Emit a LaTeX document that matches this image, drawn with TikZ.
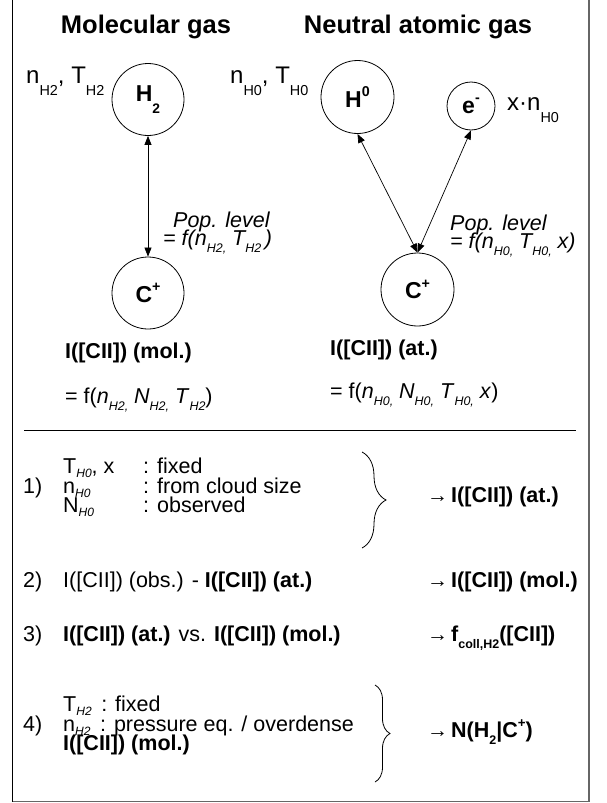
\documentclass[tikz,border=0pt]{standalone}
\usepackage{fontspec}
\setmainfont{Liberation Sans}
\usetikzlibrary{arrows.meta,decorations.pathreplacing}
\newcommand\sbs[1]{\raisebox{-0.2em}{\scalebox{0.56}{#1}}}
\newcommand\sbm[1]{\raisebox{-0.34em}{\scalebox{0.58}{#1}}}
\newcommand\sbl[1]{\raisebox{-0.5em}{\scalebox{0.6}{#1}}}
\newcommand\sps[1]{\raisebox{0.45em}{\scalebox{0.62}{#1}}}
\newcommand\smarr{\makebox[24pt][l]{\fontsize{21}{21}\selectfont\mdseries →}}
\begin{document}
\begin{tikzpicture}[x=1pt,y=-1pt,
  txt/.style={font=\fontsize{21.5}{24}\selectfont, inner sep=0pt, anchor=base west},
  big/.style={font=\fontsize{24}{26}\selectfont, inner sep=0pt, anchor=base west},
  ttl/.style={font=\fontsize{25.5}{28}\selectfont\bfseries, inner sep=0pt, anchor=base},
  circ/.style={draw, circle, line width=0.8pt, minimum size=#1, inner sep=0pt, font=\fontsize{23}{24}\selectfont\bfseries},
  dbl/.style={{Triangle[length=9pt,width=7pt]}-{Triangle[length=9pt,width=7pt]}, line width=0.7pt},
  brc/.style={decorate, decoration={brace, amplitude=#1}, line width=0.8pt},
  frameL/.style={line width=1pt, black},
  frameR/.style={line width=1.6pt, black!60}]
\useasboundingbox (0,0) rectangle (606,803);
% frame
\coordinate (fTL) at (12.5,0);
\coordinate (fBL) at (12.5,801.5);
\coordinate (fBR) at (589,801.5);
\coordinate (fTR) at (589,0);
\draw[frameL] (fTL) -- (fBL);
\draw[frameR] (fBL) -- (fBR) -- (fTR);
% titles
\node[ttl] (title1) at (146,33) {Molecular gas};
\node[ttl] (title2) at (418,33) {Neutral atomic gas};
% circles
\node[circ=72pt] (H2) at (148,99.5) {H\sbl{2}};
\node[circ=73pt] (H0) at (357.5,97) {H\sps{0}};
\node[circ=48pt] (e) at (471,106) {e\sps{-}};
\node[circ=72pt] (CL) at (148,293) {C\sps{+}};
\node[circ=73pt] (CR) at (417.5,289.5) {C\sps{+}};
% labels near circles
\node[big] (nTH2) at (26,83) {n\sbl{H2}, T\sbl{H2}};
\node[big] (nTH0) at (230,83) {n\sbl{H0}, T\sbl{H0}};
\node[big] (xnH0) at (507,110) {x·n\sbl{H0}};
% connectors
\draw[dbl] (CL.north) -- (H2.south);
\draw[dbl] (CR.north) -- (H0.south);
\draw[dbl] (CR.north) -- (e.south);
% population level labels
\node[txt, font=\fontsize{21.5}{24}\selectfont\itshape] (popL1) at (173,227) {Pop. level};
\node[txt, font=\fontsize{21.5}{24}\selectfont\itshape] (popL2) at (163,245) {= f(n\sbm{H2,} T\sbm{H2}\,)};
\node[txt, font=\fontsize{21.5}{24}\selectfont\itshape] (popR1) at (450,230) {Pop. level};
\node[txt, font=\fontsize{21.5}{24}\selectfont\itshape] (popR2) at (450,248) {= f(n\sbm{H0,} T\sbm{H0,} x)};
% intensities
\node[txt, font=\fontsize{21.5}{24}\selectfont\bfseries] (ImolL) at (65,358) {I([CII]) (mol.)};
\node[txt] (feqL) at (65,403) {= f(\textit{n}\sbm{\itshape H2,} \textit{N}\sbm{\itshape H2,} \textit{T}\sbm{\itshape H2})};
\node[txt, font=\fontsize{21.5}{24}\selectfont\bfseries] (IatR) at (330,355) {I([CII]) (at.)};
\node[txt] (feqR) at (330,398) {= f(\textit{n}\sbm{\itshape H0,} \textit{N}\sbm{\itshape H0,} \textit{T}\sbm{\itshape H0,} \textit{x})};
% separator
\coordinate (hl1) at (24,430);
\coordinate (hl2) at (576,430);
\draw[line width=0.8pt] (hl1) -- (hl2);
% step 1
\node[txt] (s1a) at (63,473) {T\sbs{\itshape H0}, x};
\node[txt] (s1b) at (143,473) {: fixed};
\node[txt] (n1) at (23,493) {1)};
\node[txt] (s1c) at (63,493) {n\sbs{\itshape H0}};
\node[txt] (s1d) at (143,493) {: from cloud size};
\node[txt] (s1e) at (63,512) {N\sbs{\itshape H0}};
\node[txt] (s1f) at (143,512) {: observed};
\coordinate (b1t) at (362,452);
\coordinate (b1b) at (362,548);
\draw[brc=24pt] (b1t) -- (b1b);
\node[txt] (r1) at (427,502) {\smarr\textbf{I([CII]) (at.)}};
% step 2
\node[txt] (n2) at (23,587) {2)};
\node[txt] (s2) at (63,587) {I([CII]) (obs.) - \textbf{I([CII]) (at.)}};
\node[txt] (r2) at (427,587) {\smarr\textbf{I([CII]) (mol.)}};
% step 3
\node[txt] (n3) at (23,641) {3)};
\node[txt] (s3) at (63,641) {\textbf{I([CII]) (at.)} vs. \textbf{I([CII]) (mol.)}};
\node[txt] (r3) at (427,641) {\smarr\textbf{f\sbm{coll,H2}([CII])}};
% step 4
\node[txt] (s4a) at (63,711) {T\sbs{\itshape H2} \,: fixed};
\node[txt] (n4) at (23,731) {4)};
\node[txt] (s4b) at (63,731) {n\sbs{\itshape H2} \,: pressure eq. / overdense};
\node[txt, font=\fontsize{21.5}{24}\selectfont\bfseries] (s4c) at (63,750) {I([CII]) (mol.)};
\coordinate (b4t) at (375,685);
\coordinate (b4b) at (375,782);
\draw[brc=15pt] (b4t) -- (b4b);
\node[txt] (r4) at (427,737) {\smarr\textbf{N(H\sbm{2}|C\sps{+})}};
\end{tikzpicture}
\end{document}
